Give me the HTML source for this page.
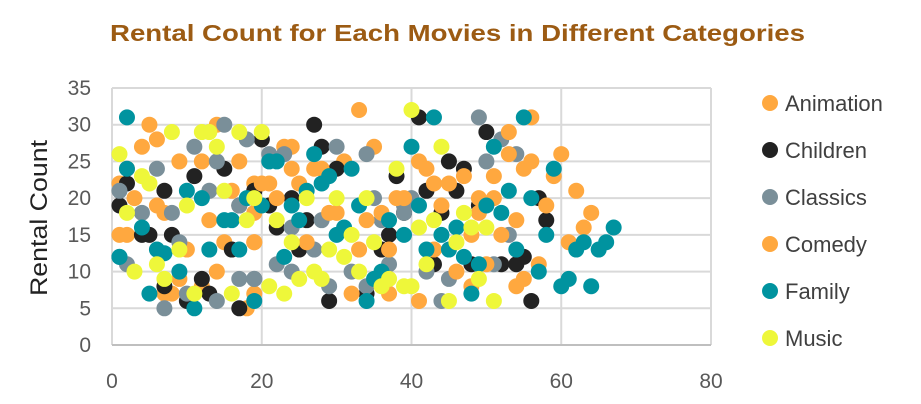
<!DOCTYPE html>
<html><head><meta charset="utf-8"><style>
html,body{margin:0;padding:0;background:#fff;}
svg{display:block;font-family:"Liberation Sans",Arial,sans-serif;}
</style></head><body>
<svg id="chart" width="921" height="404" viewBox="0 0 921 404" xmlns="http://www.w3.org/2000/svg">
<rect x="0" y="0" width="921" height="404" fill="#fff"/>
<text x="110" y="41" textLength="695" lengthAdjust="spacingAndGlyphs" font-size="23" font-weight="bold" fill="#9c5b13">Rental Count for Each Movies in Different Categories</text>
<g id="grid"></g>
<g id="axes"></g>
<g id="points"></g>
<text transform="translate(47,218) rotate(-90)" text-anchor="middle" textLength="156" lengthAdjust="spacingAndGlyphs" font-size="24" fill="#222">Rental Count</text>
<g id="legend"></g>
</svg>
<script>
const seriesNames = ["Animation","Children","Classics","Comedy","Family","Music"];
const seriesColors = ["#FFA83F","#222222","#7A8F99","#FFA83F","#00939F","#EEF73A"];
const xTicks = [0,20,40,60,80];
const yTicks = [0,5,10,15,20,25,30,35];
const animX=[5,14,6,4,9,12,17,2,1,3,6,7,13,16,19,1,2,10,15,19,14,9,7,8,12,18,19,33,24,23,35,31];
const animY=[30,30,28,27,25,25,25,24,22,20,19,18,17,21,22,15,15,13,14,14,10,9,7,7,8,5,7,32,27,27,27,25];
const childX=[11,15,2,7,1,19,20,5,4,8,16,12,13,10,17,7,17,27,20,28,30,38,19,24,21,26,22,37,36,25,29,34,41,50,45,47,42,46,44,39,49,57,58,43,48,52,54,55,56];
const childY=[23,24,22,21,19,21,28,15,15,15,13,9,7,6,5,8,19,30,28,27,24,23,21,20,19,17,16,15,13,13,6,7,31,29,25,24,21,21,18,18,19,20,17,11,11,11,11,12,6];
const classX=[15,11,18,6,14,1,4,8,17,9,2,17,19,14,7,10,13,30,21,23,34,28,24,37,22,27,32,29,19,24,34,35,36,39,49,52,54,50,40,39,53,42,45,44,51];
const classY=[30,27,28,24,25,21,18,18,19,14,11,9,9,6,5,7,21,27,26,26,26,17,16,11,11,13,10,8,9,10,8,20,17,19,31,28,26,25,20,18,15,10,9,6,11];
const comedyX=[24,27,28,21,20,22,25,29,30,34,36,38,26,33,37,32,37,19,19,56,53,53,41,42,55,56,47,51,43,45,49,51,39,44,49,58,54,52,48,43,46,50,57,54,55,41,48,60,59,62,64,63,61];
const comedyY=[24,24,24,22,22,20,22,18,18,17,18,20,14,13,13,7,7,14,18,31,29,26,25,24,24,25,23,23,22,22,20,20,20,19,18,19,17,15,15,13,10,11,11,8,9,6,8,26,23,21,18,16,14];
const famX=[2,1,2,1,4,6,7,9,5,11,19,17,13,15,16,12,10,18,20,27,21,22,29,28,32,26,24,25,33,31,30,37,39,23,36,35,34,40,43,55,51,59,53,56,50,52,41,58,46,44,42,45,47,49,54,57,48,60,67,66,65,63,62,61,64];
const famY=[31,12,24,12,16,13,12.5,10,7,5,6,13,13,17,17,20,21,20,19,26,25,25,23,22,24,21,19,17,19,16,15,17,15,12,10,9,6,27,31,31,27,24,21,20,19,18,19,15,16,15,13,13,12,11,13,10,7,8,16,14,13,14,13,9,8];
const musicX=[8,12,13,17,20,14,1,4,5,15,19,2,10,18,9,6,3,7,11,16,40,38,26,30,34,22,32,24,29,31,35,33,27,28,25,21,23,36,37,39,44,47,43,41,48,50,46,42,49,45,51,40];
const musicY=[29,29,29,29,29,27,26,23,22,21,20,18,19,17,13,11,10,9,7,7,32,24,20,20,20,17,15,14,13,12,14,10,10,9,9,8,7,8,9,8,27,18,17,16,16,16,14,11,9,6,6,8];
const seriesX=[animX,childX,classX,comedyX,famX,musicX];
const seriesY=[animY,childY,classY,comedyY,famY,musicY];

const NS="http://www.w3.org/2000/svg";
const L=112,R=711,T=88,B=345,xMax=80,yMax=35;
function xs(v){return L+(v/xMax)*(R-L);}
function ys(v){return B-(v/yMax)*(B-T);}
function mk(tag,attrs,parent){const e=document.createElementNS(NS,tag);for(const k in attrs)e.setAttribute(k,attrs[k]);parent.appendChild(e);return e;}
const grid=document.getElementById('grid'),axes=document.getElementById('axes'),pts=document.getElementById('points'),leg=document.getElementById('legend');
yTicks.forEach(t=>{
  const ln=mk('line',{x1:L,x2:R,y1:ys(t),y2:ys(t),stroke:'#d9d9d9','stroke-width':2},grid);
  
  
  const tx=mk('text',{x:91,y:ys(t)+7,'text-anchor':'end','font-size':21,fill:'#595959'},axes);
  tx.textContent=t;
  
  
});
xTicks.forEach(t=>{
  const ln=mk('line',{x1:xs(t),x2:xs(t),y1:T,y2:B,stroke:'#d9d9d9','stroke-width':2},grid);
  
  
  const tx=mk('text',{x:xs(t),y:388,'text-anchor':'middle','font-size':21,fill:'#595959'},axes);
  tx.textContent=t;
  
  
});
const bl=mk('line',{x1:L,x2:R,y1:B,y2:B,stroke:'#bfbfbf','stroke-width':2},axes);


seriesX.forEach((xa,si)=>{
  xa.forEach((xv,i)=>{
    const c=mk('circle',{cx:xs(xv),cy:ys(seriesY[si][i]),r:8,fill:seriesColors[si]},pts);
    
    
  });
});
seriesNames.forEach((n,i)=>{
  const y=103+i*47;
  const c=mk('circle',{cx:770,cy:y,r:8,fill:seriesColors[i]},leg);
  
  
  const t=mk('text',{x:785,y:y+8,'font-size':22,fill:'#404040'},leg);
  t.textContent=n;
  
  
});
</script>
</body></html>
